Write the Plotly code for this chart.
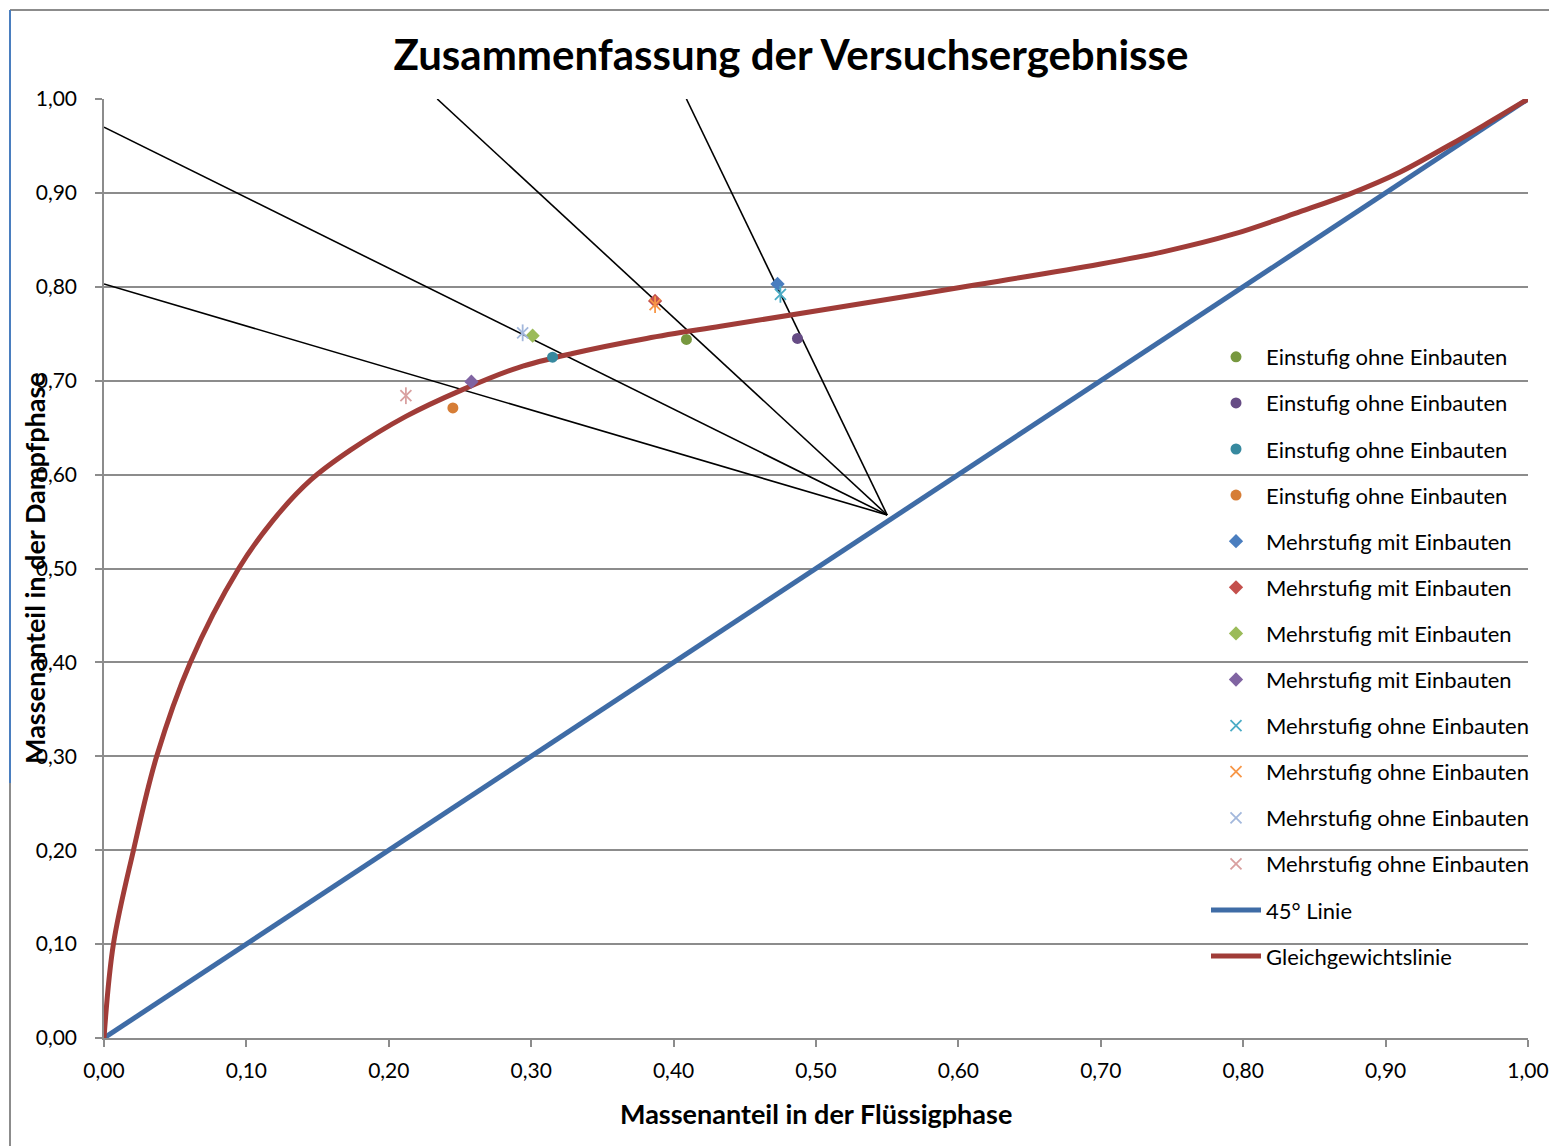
import plotly.graph_objects as go

# Messpunkte (x = Flüssigphase, y = Dampfphase)
einstufig_x = [0.409, 0.487, 0.315, 0.245]
einstufig_y = [0.744, 0.745, 0.725, 0.671]
mehr_mit_x = [0.473, 0.387, 0.301, 0.258]
mehr_mit_y = [0.803, 0.785, 0.748, 0.699]
mehr_ohne_x = [0.475, 0.387, 0.294, 0.212]
mehr_ohne_y = [0.792, 0.781, 0.751, 0.684]

# Bilanzlinien: Startpunkte, alle enden im gemeinsamen Punkt
bilanz_start_x = [0.0, 0.0, 0.234, 0.409]
bilanz_start_y = [0.803, 0.970, 1.0, 1.0]
bilanz_end = (0.55, 0.557)

# Gleichgewichtslinie
gg_x = [0.0, 0.0066, 0.0207, 0.037, 0.0606, 0.0946, 0.118, 0.145, 0.173, 0.212,
        0.251, 0.291, 0.329, 0.381, 0.433, 0.503, 0.6, 0.699, 0.746, 0.793,
        0.84, 0.875, 0.91, 0.945, 0.969, 1.0]
gg_y = [0.0, 0.1, 0.2, 0.3, 0.4, 0.5, 0.55, 0.594, 0.626, 0.662,
        0.690, 0.714, 0.729, 0.745, 0.758, 0.775, 0.799, 0.824, 0.838, 0.856,
        0.880, 0.899, 0.922, 0.951, 0.972, 1.0]

diag_x = [0.0, 1.0]
diag_y = [0.0, 1.0]

C_EIN = ['#77983f', '#664c85', '#37899f', '#d67d36']
C_MIT = ['#4a7ebf', '#c4504c', '#9bbb59', '#8064a2']
C_OHNE = ['#4bacc6', '#f79646', '#a3b8dc', '#d9a0a0']

FONT = 'Lato'

fig = go.Figure()

# Bilanzlinien (ohne Legende)
for sx, sy in zip(bilanz_start_x, bilanz_start_y):
    fig.add_trace(go.Scatter(
        x=[sx, bilanz_end[0]], y=[sy, bilanz_end[1]],
        mode='lines', line=dict(color='black', width=1.6),
        showlegend=False, hoverinfo='skip',
    ))

fig.add_trace(go.Scatter(
    x=diag_x, y=diag_y, mode='lines', name='45° Linie',
    line=dict(color='#3f6ca6', width=5), legendgroup='g13', legendrank=13,
))
fig.add_trace(go.Scatter(
    x=gg_x, y=gg_y, mode='lines', name='Gleichgewichtslinie',
    line=dict(color='#a03c38', width=5, shape='spline', smoothing=1.0),
    legendgroup='g14', legendrank=14,
))

rank = 1
for i in range(4):
    fig.add_trace(go.Scatter(
        x=[einstufig_x[i]], y=[einstufig_y[i]], mode='markers',
        name='Einstufig ohne Einbauten',
        marker=dict(symbol='circle', size=11, color=C_EIN[i]),
        legendgroup=f'g{rank}', legendrank=rank,
    ))
    rank += 1
for i in range(4):
    fig.add_trace(go.Scatter(
        x=[mehr_mit_x[i]], y=[mehr_mit_y[i]], mode='markers',
        name='Mehrstufig mit Einbauten',
        marker=dict(symbol='diamond', size=11, color=C_MIT[i]),
        legendgroup=f'g{rank}', legendrank=rank,
    ))
    rank += 1
for i in range(4):
    fig.add_trace(go.Scatter(
        x=[mehr_ohne_x[i]], y=[mehr_ohne_y[i]], mode='markers',
        name='Mehrstufig ohne Einbauten',
        marker=dict(symbol='x-thin-open', size=11, color=C_OHNE[i],
                    line=dict(color=C_OHNE[i], width=1.8)),
        legendgroup=f'g{rank}', legendrank=rank,
    ))
    # senkrechter Strich -> Excel-Stern
    fig.add_trace(go.Scatter(
        x=[mehr_ohne_x[i]], y=[mehr_ohne_y[i]], mode='markers',
        marker=dict(symbol='line-ns-open', size=12, color=C_OHNE[i],
                    line=dict(color=C_OHNE[i], width=1.8)),
        legendgroup=f'g{rank}', showlegend=False, hoverinfo='skip',
    ))
    rank += 1

# Seite hat 8px Rand -> alle Pixelangaben um 8 verschieben
OFF = 8
W, H = 1557, 1146
L, R, T, B = 104 - OFF, 1528 - OFF, 99 - OFF, 1038 - OFF


def px_x(p):
    return (p - OFF - L) / (R - L)


def px_y(p):
    return (B - (p - OFF)) / (B - T)


axis_common = dict(
    range=[0, 1], dtick=0.1, tickformat='.2f',
    showline=True, linecolor='#8c8c8c', linewidth=1.5,
    ticks='outside', ticklen=7, tickcolor='#8c8c8c', tickwidth=1.5,
    tickfont=dict(family=FONT, size=21, color='black'),
    zeroline=False,
)

fig.update_layout(
    width=W, height=H,
    margin=dict(l=L, r=W - R, t=T, b=H - B),
    paper_bgcolor='white', plot_bgcolor='white',
    separators=',.',
    title=dict(
        text='<b>Zusammenfassung der Versuchsergebnisse</b>',
        x=(791 - OFF) / W, xanchor='center', y=1 - (55 - OFF) / H, yanchor='middle',
        font=dict(family=FONT, size=42, color='black'),
    ),
    xaxis=dict(**axis_common, showgrid=False, ticklabelstandoff=6),
    yaxis=dict(**axis_common, showgrid=True, gridcolor='#8c8c8c', gridwidth=1.5,
               ticklabelstandoff=14),
    legend=dict(
        x=px_x(1206), xanchor='left', y=px_y(336), yanchor='top',
        bgcolor='rgba(0,0,0,0)', itemwidth=50, tracegroupgap=14.5,
        font=dict(family=FONT, size=22, color='black'),
        traceorder='grouped',
    ),
    annotations=[
        dict(text='<b>Massenanteil in der Flüssigphase</b>', xref='paper', yref='paper',
             x=px_x(816), y=px_y(1113), xanchor='center', yanchor='middle',
             showarrow=False, font=dict(family=FONT, size=27, color='black')),
        dict(text='<b>Massenanteil in der Dampfphase</b>', xref='paper', yref='paper',
             x=px_x(34), y=px_y(568), xanchor='center', yanchor='middle', textangle=-90,
             showarrow=False, font=dict(family=FONT, size=27, color='black')),
    ],
    shapes=[
        dict(type='line', xref='paper', yref='paper', x0=px_x(10), x1=px_x(W + 20),
             y0=px_y(10), y1=px_y(10), line=dict(color='#8c8c8c', width=2)),
        dict(type='line', xref='paper', yref='paper', x0=px_x(10), x1=px_x(10),
             y0=px_y(10), y1=px_y(783), line=dict(color='#4a7ebf', width=2)),
        dict(type='line', xref='paper', yref='paper', x0=px_x(10), x1=px_x(10),
             y0=px_y(783), y1=px_y(H + 20), line=dict(color='#8c8c8c', width=2)),
    ],
)

fig.write_html("out.html")
